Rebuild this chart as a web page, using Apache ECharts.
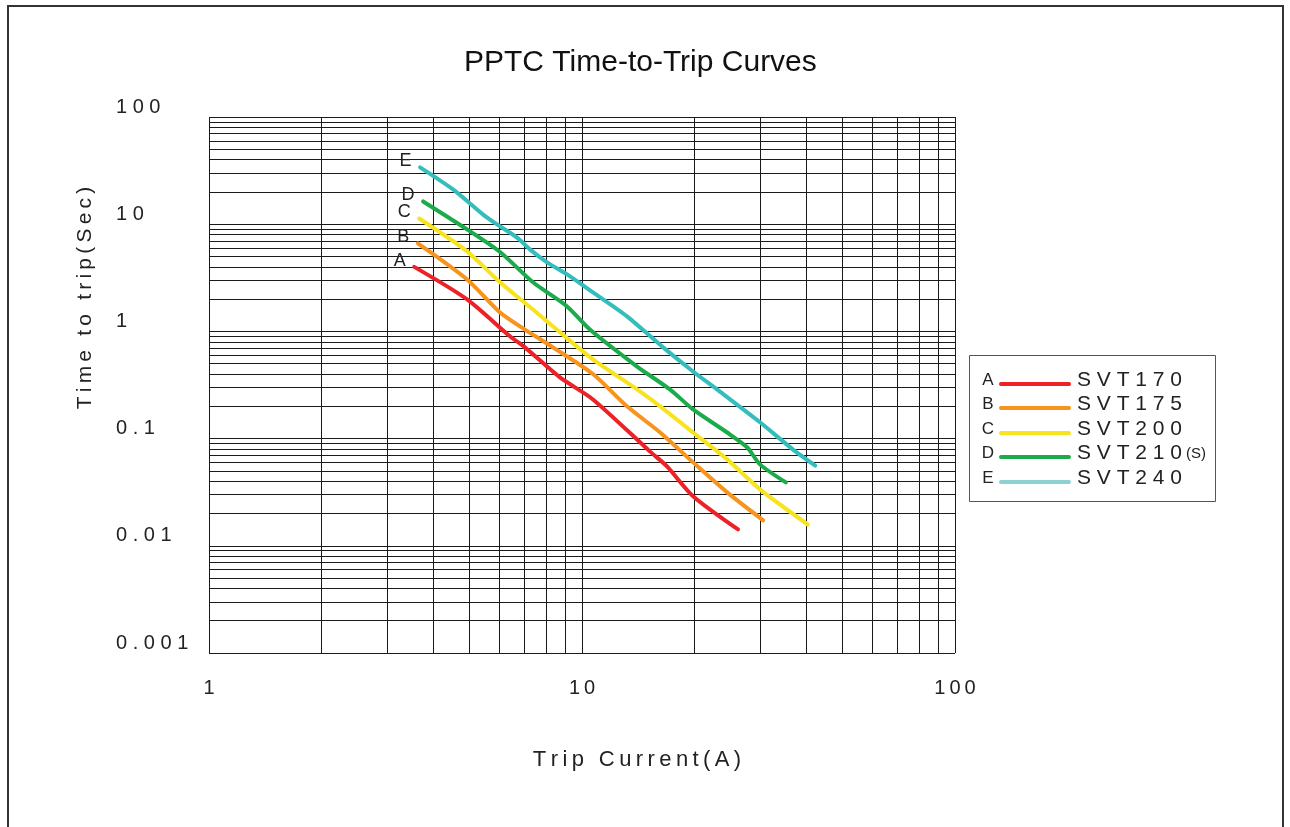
<!DOCTYPE html>
<html>
<head>
<meta charset="utf-8">
<script src="https://cdn.jsdelivr.net/npm/echarts@6/dist/echarts.min.js"></script>
<style>html,body{margin:0;padding:0;background:#fff}#c{width:1290px;height:827px}</style>
</head>
<body>
<div id="c"></div>
<script>
// ---- data ----
var seriesNames = ['SVT170', 'SVT175', 'SVT200', 'SVT210', 'SVT240'];
var seriesLetters = ['A', 'B', 'C', 'D', 'E'];
var seriesColors = ['#ec2227', '#f7941d', '#f7e41f', '#1bab4b', '#33bdbd'];
var legendColors = ['#ec2227', '#f7941d', '#f7e41f', '#1bab4b', '#8ed1d3'];

var currentA = [3.55, 4.92, 6.41, 7.03, 8.73, 10.7, 15.2, 16.9, 19.85, 26.2];
var timeA    = [4.0, 1.99, 0.90, 0.71, 0.372, 0.232, 0.076, 0.055, 0.029, 0.0142];

var currentB = [3.63, 4.92, 6.03, 7.03, 8.36, 10.7, 13.2, 16.2, 19.85, 24.5, 30.6];
var timeB    = [6.62, 3.05, 1.50, 1.04, 0.71, 0.40, 0.20, 0.114, 0.060, 0.0315, 0.0173];

var currentC = [3.66, 4.92, 6.03, 7.39, 8.73, 10.7, 14.05, 16.2, 19.85, 24.5, 30.0, 40.3];
var timeC    = [11.3, 5.58, 2.87, 1.60, 0.98, 0.548, 0.288, 0.20, 0.114, 0.064, 0.0336, 0.0158];

var currentD = [3.75, 4.92, 6.03, 7.39, 9.12, 10.5, 14.05, 17.2, 19.85, 24.5, 27.7, 30.0, 35.2];
var timeD    = [16.3, 8.94, 5.5, 2.87, 1.71, 1.04, 0.47, 0.288, 0.187, 0.114, 0.083, 0.0575, 0.039];

var currentE = [3.68, 4.51, 5.43, 5.92, 6.70, 7.25, 8.06, 9.12, 10.7, 13.2, 16.5, 19.85, 23.0, 30.0, 36.8, 42.2];
var timeE    = [33.9, 21.1, 12.3, 9.96, 7.5, 5.82, 4.40, 3.40, 2.31, 1.38, 0.71, 0.423, 0.288, 0.142, 0.079, 0.056];

var xTickLabels = ['1', '10', '100'];          // 10^0 .. 10^2
var yTickLabels = ['0.001', '0.01', '0.1', '1', '10', '100']; // 10^-3 .. 10^2

// log-paper grid lines
var xGridValues = [1,2,3,4,5,6,7,8,9,10,20,30,40,50,60,70,80,90,100];
var yGridValues = [0.001,0.002,0.003,0.004,0.005,0.006,0.007,0.008,0.009,
                   0.01,0.02,0.03,0.04,0.05,0.06,0.07,0.08,0.09,
                   0.1,0.2,0.3,0.4,0.5,0.6,0.7,0.8,0.9,
                   1,2,3,4,5,6,7,8,9,
                   10,20,30,40,50,60,70,80,90,100];

var titleText = 'PPTC Time-to-Trip Curves';
var xAxisName = 'Trip Current(A)';
var yAxisName = 'Time to trip(Sec)';

var currents = [currentA, currentB, currentC, currentD, currentE];
var times = [timeA, timeB, timeC, timeD, timeE];

// ---- chart ----
var FONT = '"Liberation Sans", Arial, sans-serif';
function spaced(s, sep) { return s.split('').join(sep || ' '); }
function expIndex(v, minExp) { return Math.round(Math.log(v) / Math.LN10) - minExp; }

var chart = echarts.init(document.getElementById('c'), null, { renderer: 'canvas' });

var gridMarks = [];
xGridValues.forEach(function (v) { gridMarks.push({ xAxis: v }); });
yGridValues.forEach(function (v) { gridMarks.push({ yAxis: v }); });

var series = [{
  type: 'line', data: [], silent: true, z: 1,
  markLine: {
    silent: true, symbol: 'none', animation: false, precision: 8,
    label: { show: false },
    lineStyle: { color: '#1a1a1a', width: 1, type: 'solid' },
    emphasis: { disabled: true },
    data: gridMarks
  }
}];

seriesNames.forEach(function (name, k) {
  var letter = seriesLetters[k];
  series.push({
    name: name,
    type: 'line',
    z: 5,
    smooth: 0.25,
    symbol: 'circle',
    symbolSize: 1,
    showSymbol: true,
    itemStyle: { color: seriesColors[k] },
    lineStyle: { color: seriesColors[k], width: 4, cap: 'round', join: 'round' },
    label: {
      show: true,
      position: 'left',
      distance: 8,
      offset: [0, -6],
      fontFamily: FONT,
      fontSize: 18,
      color: '#222',
      formatter: function (p) { return p.dataIndex === 0 ? letter : ''; }
    },
    data: currents[k].map(function (x, i) { return [x, times[k][i]]; })
  });
});

// legend built from the series arrays
var legendChildren = [{
  type: 'rect', shape: { x: 969.5, y: 355.5, width: 246, height: 146 },
  style: { fill: '#fff', stroke: '#555', lineWidth: 1 }
}];
var rowY = [380, 404, 429, 453, 478];
seriesNames.forEach(function (name, k) {
  var y = rowY[k];
  legendChildren.push({
    type: 'text', style: { x: 988, y: y, text: seriesLetters[k], fontFamily: FONT, fontSize: 17,
      fill: '#222', align: 'center', verticalAlign: 'middle' }
  });
  legendChildren.push({
    type: 'line', shape: { x1: 1001, y1: y + 4, x2: 1069, y2: y + 4 },
    style: { stroke: legendColors[k], lineWidth: 4, lineCap: 'round' }
  });
  var rich = { m: { fontFamily: FONT, fontSize: 21, color: '#222' },
               s: { fontFamily: FONT, fontSize: 15, color: '#222', padding: [2, 0, 0, 4] } };
  var txt = '{m|' + spaced(name) + '}' + (k === 3 ? '{s|(S)}' : '');
  legendChildren.push({
    type: 'text', style: { x: 1077, y: y, text: txt, rich: rich, fontFamily: FONT, fontSize: 21,
      fill: '#222', align: 'left', verticalAlign: 'middle' }
  });
});

var option = {
  backgroundColor: '#ffffff',
  animation: false,
  title: {
    text: titleText,
    left: 459, top: 43,
    textStyle: { fontFamily: FONT, fontSize: 30, fontWeight: 'normal', color: '#111' }
  },
  grid: { left: 209, top: 117, width: 746, height: 536, containLabel: false },
  xAxis: {
    type: 'log', logBase: 10, min: 1, max: 100,
    axisLine: { show: false }, axisTick: { show: false },
    splitLine: { show: false }, minorSplitLine: { show: false },
    axisLabel: {
      margin: 25, fontFamily: FONT, fontSize: 20, color: '#222',
      formatter: function (v) { var t = xTickLabels[expIndex(v, 0)]; return t ? spaced(t, '\u2009') : ''; }
    }
  },
  yAxis: {
    type: 'log', logBase: 10, min: 0.001, max: 100,
    axisLine: { show: false }, axisTick: { show: false },
    splitLine: { show: false }, minorSplitLine: { show: false },
    axisLabel: {
      margin: 93, align: 'left', verticalAlign: 'bottom', lineHeight: 20,
      fontFamily: FONT, fontSize: 20, color: '#222',
      formatter: function (v) { var t = yTickLabels[expIndex(v, -3)]; return t ? spaced(t) : ''; }
    }
  },
  graphic: [
    { type: 'polyline', silent: true, shape: { points: [[8, 830], [8, 6], [1283, 6], [1283, 830]] },
      style: { stroke: '#333', lineWidth: 2, fill: null } },
    { type: 'text', silent: true, x: 637, y: 760,
      style: { text: spaced(xAxisName, '\u2009'), fontFamily: FONT, fontSize: 22, fill: '#222',
        align: 'center', verticalAlign: 'middle' } },
    { type: 'text', silent: true, x: 85, y: 298, rotation: Math.PI / 2,
      style: { text: spaced(yAxisName, '\u2009'), fontFamily: FONT, fontSize: 21, fill: '#222',
        align: 'center', verticalAlign: 'middle' } },
    { type: 'group', children: legendChildren }
  ],
  series: series
};
chart.setOption(option);
</script>
</body>
</html>
